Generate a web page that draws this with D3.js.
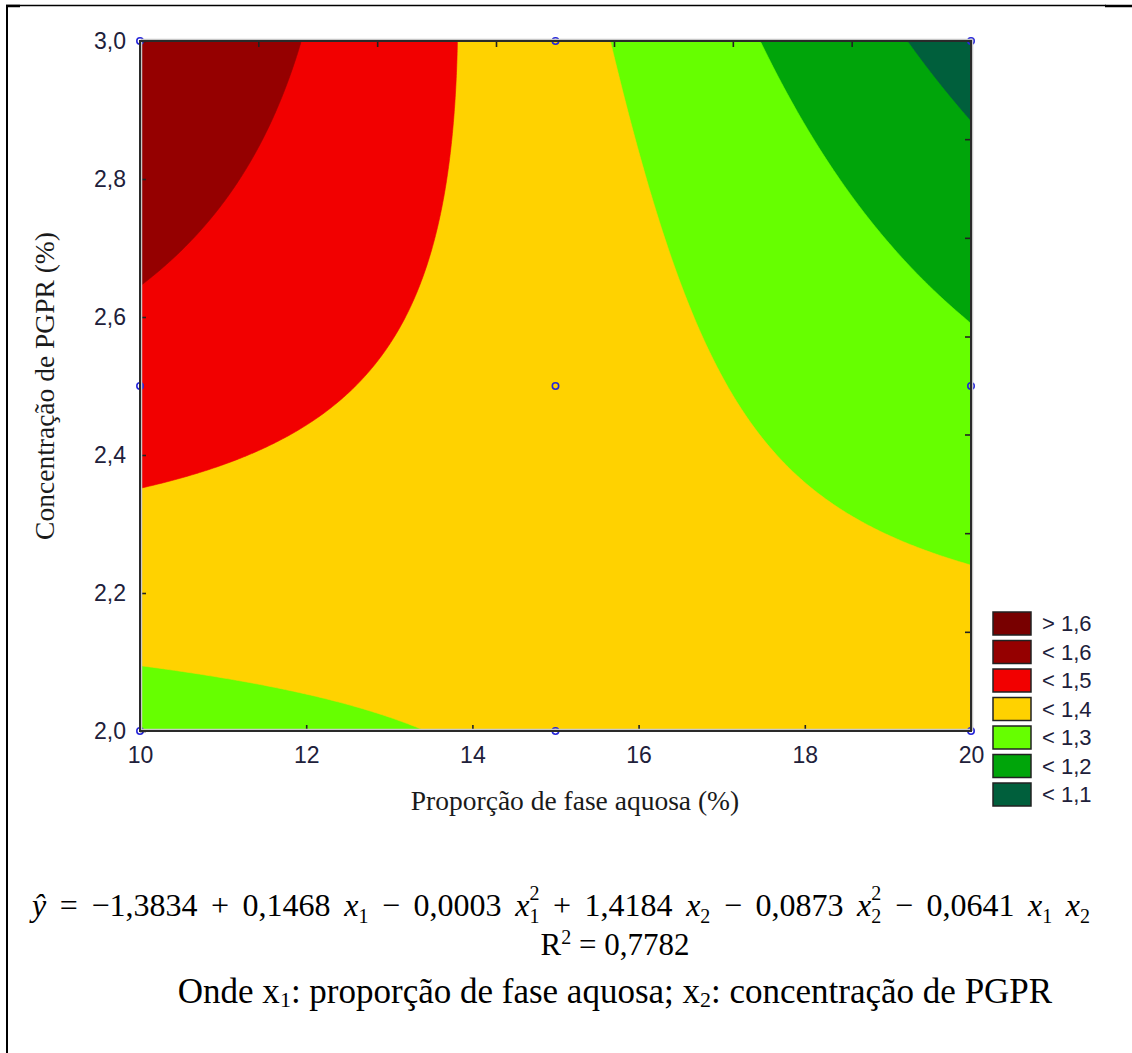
<!DOCTYPE html>
<html>
<head>
<meta charset="utf-8">
<script src="https://cdn.jsdelivr.net/npm/d3@7"></script>
<style>
  body { margin: 0; background: #fff; }
  svg { display: block; }
</style>
</head>
<body>
<div id="chart"></div>
<script>
// model coefficients as printed under the chart: b0, b1 (x1), b11 (x1^2), b2 (x2), b22 (x2^2), b12 (x1 x2)
const coefs = [-1.3834, 0.1468, -0.0003, 1.4184, -0.0873, -0.0641];
const rSquared = 0.7782;

// contour levels and legend
const levels = [1.1, 1.2, 1.3, 1.4, 1.5, 1.6];
const legendLabels = ["> 1,6", "< 1,6", "< 1,5", "< 1,4", "< 1,3", "< 1,2", "< 1,1"];
const legendColors = ["#780000", "#950000", "#f20000", "#ffd200", "#66ff00", "#00a50a", "#005f3c"];

// experimental design points
const pointsX1 = [10, 15, 20, 10, 15, 20, 10, 15, 20];
const pointsX2 = [3.0, 3.0, 3.0, 2.5, 2.5, 2.5, 2.0, 2.0, 2.0];

// axis ticks
const xTicks = [10, 12, 14, 16, 18, 20];
const yTicks = [2.0, 2.2, 2.4, 2.6, 2.8, 3.0];
const topTicks = [11.43, 12.86, 14.29, 15.71, 17.14, 18.57];
const rightTicks = [2.143, 2.286, 2.429, 2.571, 2.714, 2.857];

const W = 1132, H = 1053;
const plot = { left: 140, right: 971, top: 41, bottom: 731 };

const svg = d3.select("#chart").append("svg")
    .attr("width", W)
    .attr("height", H);

// outer frame of the figure cell
svg.append("line").attr("x1", 7).attr("x2", 7).attr("y1", 5).attr("y2", H)
    .attr("stroke", "#000").attr("stroke-width", 2);
svg.append("line").attr("x1", 6).attr("x2", 1106).attr("y1", 5.5).attr("y2", 5.5)
    .attr("stroke", "#000").attr("stroke-width", 1.5);
svg.append("line").attr("x1", 6).attr("x2", 20).attr("y1", 6).attr("y2", 6)
    .attr("stroke", "#000").attr("stroke-width", 2.5);
svg.append("line").attr("x1", 1105).attr("x2", 1132).attr("y1", 6).attr("y2", 6)
    .attr("stroke", "#000").attr("stroke-width", 2.5);

const x = d3.scaleLinear().domain([10, 20]).range([plot.left, plot.right]);
const y = d3.scaleLinear().domain([2, 3]).range([plot.bottom, plot.top]);

// response surface from the fitted model
function model(x1, x2) {
    return coefs[0] + coefs[1] * x1 + coefs[2] * x1 * x1
        + coefs[3] * x2 + coefs[4] * x2 * x2 + coefs[5] * x1 * x2;
}

const nx = 300, ny = 250;
const dx = (x.domain()[1] - x.domain()[0]) / nx;
const dy = (y.domain()[1] - y.domain()[0]) / ny;
const grid = new Array(nx * ny);
for (let j = 0; j < ny; j++) {
    for (let i = 0; i < nx; i++) {
        grid[j * nx + i] = model(10 + (i + 0.5) * dx, 2 + (j + 0.5) * dy);
    }
}

const contours = d3.contours().size([nx, ny]).thresholds(levels)(grid);

const proj = d3.geoTransform({
    point: function(px, py) {
        this.stream.point(x(10 + px * dx), y(2 + py * dy));
    }
});
const path = d3.geoPath(proj);

svg.append("clipPath").attr("id", "clip")
    .append("rect")
    .attr("x", plot.left).attr("y", plot.top)
    .attr("width", plot.right - plot.left).attr("height", plot.bottom - plot.top);

const bands = svg.append("g").attr("clip-path", "url(#clip)");

// lowest band as background
bands.append("rect")
    .attr("x", plot.left).attr("y", plot.top)
    .attr("width", plot.right - plot.left).attr("height", plot.bottom - plot.top)
    .attr("fill", legendColors[legendColors.length - 1]);

// fill colour for area >= threshold
const bandColor = d3.scaleOrdinal()
    .domain(levels)
    .range(legendColors.slice(0, -1).reverse());

bands.selectAll("path.band")
    .data(contours)
    .enter().append("path")
    .attr("class", "band")
    .attr("d", path)
    .attr("fill", d => bandColor(d.value))
    .attr("stroke", d => bandColor(d.value))
    .attr("stroke-width", 0.6);

// design points
svg.append("g").selectAll("circle")
    .data(pointsX1.map((v, i) => [v, pointsX2[i]]))
    .enter().append("circle")
    .attr("cx", d => x(d[0]))
    .attr("cy", d => y(d[1]))
    .attr("r", 3.2)
    .attr("fill", "none")
    .attr("stroke", "#2626d9")
    .attr("stroke-width", 1.6);

const commaFmt = f => v => d3.format(f)(v).replace(".", ",");

// axes (ticks pointing into the plot)
const xAxis = svg.append("g")
    .attr("transform", `translate(0,${plot.bottom})`)
    .call(d3.axisBottom(x).tickValues(xTicks).tickFormat(d3.format("d")).tickSize(-6).tickPadding(16));
const yAxis = svg.append("g")
    .attr("transform", `translate(${plot.left},0)`)
    .call(d3.axisLeft(y).tickValues(yTicks).tickFormat(commaFmt(".1f")).tickSize(-6).tickPadding(14));

[xAxis, yAxis].forEach(ax => {
    ax.select(".domain").remove();
    ax.selectAll(".tick line").attr("stroke", "#222").attr("stroke-width", 1.6);
    ax.selectAll(".tick text")
        .attr("fill", "#20203a")
        .style("font-family", "'Liberation Sans', Arial, sans-serif")
        .style("font-size", "23px");
});

// unlabelled ticks on top and right edges
svg.append("g").selectAll("line")
    .data(topTicks)
    .enter().append("line")
    .attr("x1", d => x(d)).attr("x2", d => x(d))
    .attr("y1", plot.top).attr("y2", plot.top + 6)
    .attr("stroke", "#222").attr("stroke-width", 1.6);
svg.append("g").selectAll("line")
    .data(rightTicks)
    .enter().append("line")
    .attr("x1", plot.right - 6).attr("x2", plot.right)
    .attr("y1", d => y(d)).attr("y2", d => y(d))
    .attr("stroke", "#222").attr("stroke-width", 1.6);

// plot frame with light shadow
svg.append("rect")
    .attr("x", plot.left + 1.5).attr("y", plot.top - 1.5)
    .attr("width", plot.right - plot.left).attr("height", plot.bottom - plot.top)
    .attr("fill", "none").attr("stroke", "#c8c8c8").attr("stroke-width", 1.5);
svg.append("rect")
    .attr("x", plot.left).attr("y", plot.top)
    .attr("width", plot.right - plot.left).attr("height", plot.bottom - plot.top)
    .attr("fill", "none").attr("stroke", "#2a2a2a").attr("stroke-width", 2);

// axis titles
const serif = "'Liberation Serif', 'Times New Roman', serif";
svg.append("text")
    .attr("x", 575)
    .attr("y", 810)
    .attr("text-anchor", "middle")
    .style("font-family", serif)
    .style("font-size", "27.5px")
    .attr("fill", "#1a1a1a")
    .text("Proporção de fase aquosa (%)");

svg.append("text")
    .attr("transform", `translate(54,${(plot.top + plot.bottom) / 2}) rotate(-90)`)
    .attr("text-anchor", "middle")
    .style("font-family", serif)
    .style("font-size", "27.5px")
    .attr("fill", "#1a1a1a")
    .text("Concentração de PGPR (%)");

// legend
const legend = svg.append("g").attr("transform", "translate(993,612)");
const item = legend.selectAll("g")
    .data(legendLabels)
    .enter().append("g")
    .attr("transform", (d, i) => `translate(0,${i * 28.5})`);
item.append("rect")
    .attr("width", 38).attr("height", 23)
    .attr("fill", (d, i) => legendColors[i])
    .attr("stroke", "#222").attr("stroke-width", 1.5);
item.append("text")
    .attr("x", 49).attr("y", 19)
    .style("font-family", "'Liberation Sans', Arial, sans-serif")
    .style("font-size", "22px")
    .attr("fill", "#20203a")
    .text(d => d);

// equation below the chart
const num = v => d3.format(".4f")(Math.abs(v)).replace(".", ",");
const sign = v => v < 0 ? " − " : " + ";
const eq = svg.append("text")
    .attr("x", 32).attr("y", 916)
    .style("font-family", serif)
    .style("font-size", "32px")
    .attr("fill", "#000");

let pendingDy = 0;
function seg(txt, opts = {}) {
    const t = eq.append("tspan").text(txt);
    const shift = pendingDy + (opts.dy || 0);
    if (shift) t.attr("dy", shift);
    pendingDy = 0;
    if (opts.dx) t.attr("dx", opts.dx);
    if (opts.italic) t.style("font-style", "italic");
    if (opts.small) t.style("font-size", "20px");
    return t;
}
function addVar(sub, sup) {
    seg("x", { italic: true });
    seg(sub, { dy: 7, small: true });
    if (sup) {
        seg(sup, { dx: -10, dy: -23, small: true });
        pendingDy = 16;
    } else {
        pendingDy = -7;
    }
}
seg("ŷ", { italic: true });
seg(" = " + (coefs[0] < 0 ? "−" : "") + num(coefs[0]) + sign(coefs[1]) + num(coefs[1]) + " ");
addVar("1");
seg(sign(coefs[2]) + num(coefs[2]) + " ");
addVar("1", "2");
seg(sign(coefs[3]) + num(coefs[3]) + " ");
addVar("2");
seg(sign(coefs[4]) + num(coefs[4]) + " ");
addVar("2", "2");
seg(sign(coefs[5]) + num(coefs[5]) + " ");
addVar("1");
seg(" ");
addVar("2");

// stretch spaces so the equation fills the same width as the original
const eqLen = eq.node().getComputedTextLength();
const nSpaces = (eq.text().match(/ /g) || []).length;
eq.attr("word-spacing", Math.max(0, (1078 - eqLen) / nSpaces));

// R squared
const r2 = svg.append("text")
    .attr("x", 615).attr("y", 955)
    .attr("text-anchor", "middle")
    .style("font-family", serif)
    .style("font-size", "31px")
    .attr("fill", "#000");
r2.append("tspan").text("R");
r2.append("tspan").attr("dy", -11).style("font-size", "20px").text("2");
r2.append("tspan").attr("dy", 11).text(" = " + d3.format(".4f")(rSquared).replace(".", ","));

// variable description
const note = svg.append("text")
    .attr("x", 615).attr("y", 1003)
    .attr("text-anchor", "middle")
    .style("font-family", serif)
    .style("font-size", "35px")
    .attr("fill", "#000");
note.append("tspan").text("Onde x");
note.append("tspan").attr("dy", 4).style("font-size", "22px").text("1");
note.append("tspan").attr("dy", -4).text(": proporção de fase aquosa; x");
note.append("tspan").attr("dy", 4).style("font-size", "22px").text("2");
note.append("tspan").attr("dy", -4).text(": concentração de PGPR");
</script>
</body>
</html>
